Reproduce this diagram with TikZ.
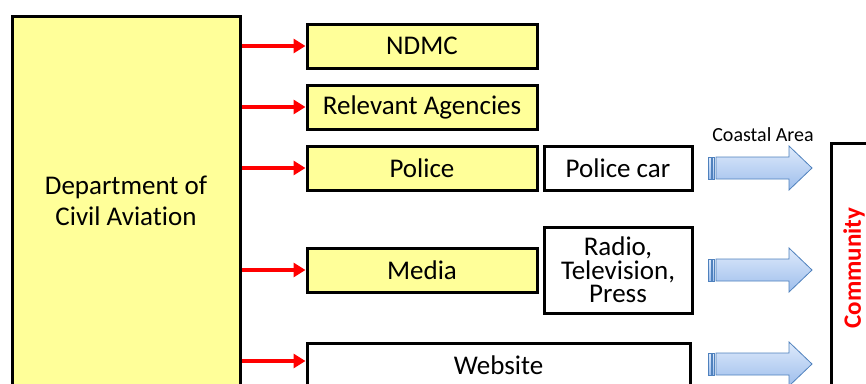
\documentclass[tikz,border=0pt]{standalone}
\usepackage{fontspec}
\setmainfont{Carlito}[Ligatures=NoCommon]
\usetikzlibrary{arrows.meta}
\definecolor{boxyellow}{RGB}{255,255,153}
\definecolor{arrowblue}{RGB}{79,129,189}
\definecolor{shadetop}{RGB}{222,234,251}
\definecolor{shadebot}{RGB}{158,190,236}
\tikzset{
  box/.style={draw, line width=3pt, fill=boxyellow, inner sep=0pt, align=center,
    font=\fontsize{27}{31}\selectfont},
  plainbox/.style={box, fill=white},
  redarrow/.style={draw=red, line width=4pt, -{Triangle[length=12pt,width=14pt]}},
  blockarrow/.style={top color=shadetop, bottom color=shadebot, draw=arrowblue, line width=0.8pt},
}
\begin{document}
\begin{tikzpicture}[x=1pt, y=-1pt]
  \useasboundingbox (0,0) rectangle (866,383);
  % sender
  \node[box, minimum width=228pt, minimum height=370pt] (dept) at (126,201) {Department of\\Civil Aviation};
  % channels
  \node[box, minimum width=230pt, minimum height=44pt] (ndmc) at (422,46) {NDMC};
  \node[box, minimum width=230pt, minimum height=44pt] (agencies) at (422,107) {Relevant Agencies};
  \node[box, minimum width=230pt, minimum height=44pt] (police) at (422,168) {Police};
  \node[box, minimum width=230pt, minimum height=44pt] (media) at (422,270) {Media};
  \node[plainbox, minimum width=383pt, minimum height=44pt] (website) at (498.5,365) {Website};
  \node[plainbox, minimum width=148pt, minimum height=44pt] (policecar) at (618,168) {Police car};
  \node[plainbox, minimum width=148pt, minimum height=86pt, font=\fontsize{27}{23.5}\selectfont] (radio) at (618,270) {Radio,\\Television,\\Press};
  % receiver
  \node[draw, line width=3pt, rotate=90, minimum width=250pt, minimum height=46pt, text=red,
    font=\bfseries\fontsize{25}{28}\selectfont] (community) at (854,268) {Community};
  % red arrows
  \foreach \n in {ndmc, agencies, police, media}
    \draw[redarrow] (dept.east |- \n.west) -- (\n.west);
  \coordinate (webin) at ([yshift=4pt]website.west);
  \draw[redarrow] (dept.east |- webin) -- (webin);
  % striped arrows
  \foreach \y in {168,270,364} {
    \shade[blockarrow] (716,\y-11) -- (789,\y-11) -- (789,\y-22) -- (812,\y)
      -- (789,\y+22) -- (789,\y+11) -- (716,\y+11) -- cycle;
    \shade[blockarrow] (708,\y-11) rectangle (711,\y+11);
    \shade[blockarrow] (712.5,\y-11) rectangle (714.5,\y+11);
  }
  \node[font=\fontsize{20}{22}\selectfont] (coastal) at (763,135) {Coastal Area};
\end{tikzpicture}
\end{document}
